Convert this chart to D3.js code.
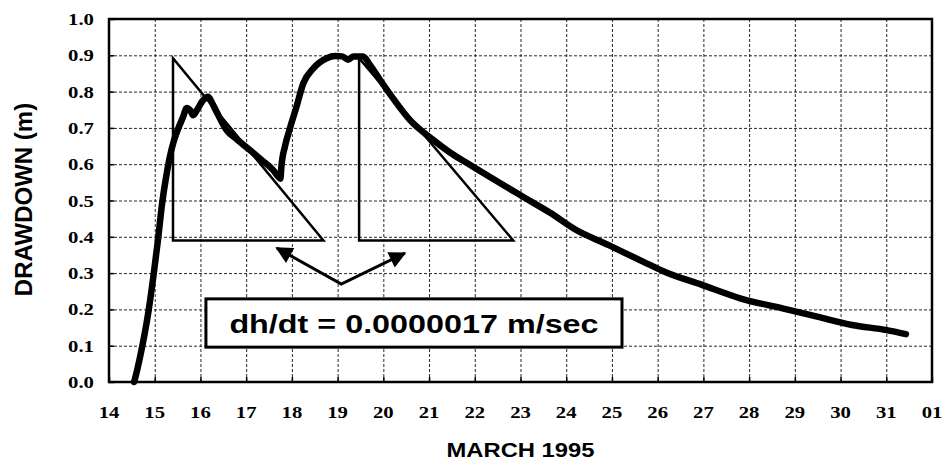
<!DOCTYPE html>
<html>
<head>
<meta charset="utf-8">
<script src="https://cdn.jsdelivr.net/npm/d3@7"></script>
<style>
  body { margin: 0; background: #fff; }
  svg { display: block; }
</style>
</head>
<body>
<div class="chart"></div>
<script>
// Day of March 1995 (fractional) and drawdown in metres
var obsDay = [14.55, 14.62, 14.73, 14.87, 14.98, 15.07, 15.16, 15.25, 15.33, 15.42, 15.52, 15.62, 15.70,
  15.78, 15.84, 15.95, 16.05, 16.17, 16.25, 16.35, 16.57, 16.80, 17.08, 17.35, 17.59, 17.70, 17.75,
  17.77, 17.85, 17.96, 18.10, 18.25, 18.47, 18.76, 18.95, 19.10, 19.23, 19.35, 19.56, 19.70, 19.93,
  20.25, 20.58, 21.09, 21.45, 21.83, 22.55, 23.10, 23.65, 24.20, 24.93, 25.69, 26.15, 26.98, 27.82,
  28.73, 29.49, 30.25, 31.01, 31.43];
var obsDrawdown = [0.0, 0.035, 0.10, 0.20, 0.30, 0.39, 0.49, 0.565, 0.62, 0.665, 0.70, 0.73, 0.755,
  0.748, 0.735, 0.755, 0.775, 0.786, 0.77, 0.745, 0.694, 0.668, 0.639, 0.61, 0.584, 0.566, 0.56,
  0.593, 0.65, 0.70, 0.758, 0.823, 0.864, 0.892, 0.898, 0.897, 0.888, 0.897, 0.897, 0.875, 0.832,
  0.775, 0.722, 0.667, 0.633, 0.603, 0.548, 0.507, 0.466, 0.42, 0.377, 0.331, 0.304, 0.267, 0.23,
  0.203, 0.18, 0.157, 0.143, 0.132];

// Axis ticks
var xTickDays = [14, 15, 16, 17, 18, 19, 20, 21, 22, 23, 24, 25, 26, 27, 28, 29, 30, 31, 32];
var xTickLabels = ['14', '15', '16', '17', '18', '19', '20', '21', '22', '23', '24', '25', '26',
  '27', '28', '29', '30', '31', '01'];
var yTickValues = [0.0, 0.1, 0.2, 0.3, 0.4, 0.5, 0.6, 0.7, 0.8, 0.9, 1.0];

// Slope triangles drawn over the recovery limbs (day, drawdown)
var triangleA = [[15.4, 0.892], [15.4, 0.39], [18.69, 0.39]];
var triangleB = [[19.47, 0.892], [19.47, 0.39], [22.84, 0.39]];

// Annotation arrows: left tip, elbow, right tip
var arrowPath = [[17.67, 0.369], [19.08, 0.27], [20.47, 0.355]];
var noteText = 'dh/dt = 0.0000017 m/sec';
var noteBox = { x0: 16.12, x1: 25.22, y0: 0.229, y1: 0.096 };

var width = 945, height = 463;
var margin = { top: 19, right: 13, bottom: 81, left: 109 };
var stretch = 1.22; // text in the original is drawn wider than tall

var svg = d3.select('.chart').append('svg')
  .attr('width', width)
  .attr('height', height);

svg.append('rect').attr('width', width).attr('height', height).attr('fill', '#fff');

var defs = svg.append('defs');
defs.append('marker')
  .attr('id', 'head')
  .attr('viewBox', '0 0 10 10')
  .attr('refX', 9).attr('refY', 5)
  .attr('markerUnits', 'userSpaceOnUse')
  .attr('markerWidth', 19).attr('markerHeight', 17)
  .attr('orient', 'auto-start-reverse')
  .append('path')
  .attr('d', 'M0,0 L10,5 L0,10 Z')
  .attr('fill', '#000');

var x = d3.scaleLinear().domain([14, 32]).range([margin.left, width - margin.right]);
var y = d3.scaleLinear().domain([0, 1]).range([height - margin.bottom, margin.top]);

// Dashed grid, drawn with the axis generators stretched over the whole plot
var xGrid = d3.axisBottom(x).tickValues(xTickDays.slice(1, -1))
  .tickSize(-(y(0) - y(1))).tickFormat('');
var yGrid = d3.axisLeft(y).tickValues(yTickValues.slice(1, -1))
  .tickSize(-(x(32) - x(14))).tickFormat('');
var gxGrid = svg.append('g').attr('class', 'grid').attr('transform', 'translate(0,' + y(0) + ')').call(xGrid);
var gyGrid = svg.append('g').attr('class', 'grid').attr('transform', 'translate(' + x(14) + ',0)').call(yGrid);
svg.selectAll('.grid .domain').remove();
svg.selectAll('.grid .tick line')
  .attr('stroke', '#000')
  .attr('stroke-width', 1)
  .attr('stroke-dasharray', '3,2')
  .attr('opacity', 0.85);

// Short solid inward ticks
var xAxis = d3.axisBottom(x).tickValues(xTickDays).tickSize(-5).tickFormat('');
var yAxis = d3.axisLeft(y).tickValues(yTickValues).tickSize(-5).tickFormat('');
var gx = svg.append('g').attr('class', 'ticks').attr('transform', 'translate(0,' + y(0) + ')').call(xAxis);
var gy = svg.append('g').attr('class', 'ticks').attr('transform', 'translate(' + x(14) + ',0)').call(yAxis);
svg.selectAll('.ticks .domain').remove();
svg.selectAll('.ticks .tick line').attr('stroke', '#000').attr('stroke-width', 1.5);

// Tick labels (serif bold, stretched sideways)
svg.append('g').selectAll('g').data(xTickDays).enter().append('g')
  .attr('transform', d => 'translate(' + x(d) + ',418) scale(' + stretch + ',1)')
  .append('text')
  .attr('text-anchor', 'middle')
  .attr('font-family', '"Liberation Serif", "Times New Roman", serif')
  .attr('font-weight', 'bold').attr('font-size', 17)
  .text((d, i) => xTickLabels[i]);

svg.append('g').selectAll('g').data(yTickValues).enter().append('g')
  .attr('transform', d => 'translate(94,' + (y(d) + 6) + ') scale(' + stretch + ',1)')
  .append('text')
  .attr('text-anchor', 'end')
  .attr('font-family', '"Liberation Serif", "Times New Roman", serif')
  .attr('font-weight', 'bold').attr('font-size', 17)
  .text(d => d.toFixed(1));

// Axis titles
svg.append('g')
  .attr('transform', 'translate(' + (x(14) + x(32)) / 2 + ',457) scale(' + stretch + ',1)')
  .append('text')
  .attr('text-anchor', 'middle')
  .attr('font-family', '"Liberation Sans", Arial, sans-serif')
  .attr('font-weight', 'bold').attr('font-size', 19.5)
  .text('MARCH 1995');

svg.append('g')
  .attr('transform', 'translate(32,' + ((y(0) + y(1)) / 2 - 1) + ') rotate(-90)')
  .append('text')
  .attr('text-anchor', 'middle')
  .attr('font-family', '"Liberation Sans", Arial, sans-serif')
  .attr('font-weight', 'bold').attr('font-size', 24)
  .text('DRAWDOWN (m)');

// Slope triangles
var poly = d3.line().x(d => x(d[0])).y(d => y(d[1]));
svg.selectAll('.tri').data([triangleA, triangleB]).enter().append('path')
  .attr('class', 'tri')
  .attr('d', d => poly(d) + 'Z')
  .attr('fill', 'none').attr('stroke', '#000').attr('stroke-width', 2.5)
  .attr('stroke-linejoin', 'miter');

// Arrows pointing at the two triangles
svg.append('path')
  .attr('d', poly(arrowPath))
  .attr('fill', 'none').attr('stroke', '#000').attr('stroke-width', 3)
  .attr('marker-start', 'url(#head)').attr('marker-end', 'url(#head)');

// Drawdown record
var records = obsDay.map((d, i) => ({ day: d, dd: obsDrawdown[i] }));
svg.append('path')
  .datum(records)
  .attr('d', d3.line().curve(d3.curveMonotoneX).x(d => x(d.day)).y(d => y(d.dd)))
  .attr('fill', 'none').attr('stroke', '#000').attr('stroke-width', 6.5)
  .attr('stroke-linecap', 'round').attr('stroke-linejoin', 'round');

// Note box
svg.append('rect')
  .attr('x', x(noteBox.x0)).attr('y', y(noteBox.y0))
  .attr('width', x(noteBox.x1) - x(noteBox.x0)).attr('height', y(noteBox.y1) - y(noteBox.y0))
  .attr('fill', '#fff').attr('stroke', '#000').attr('stroke-width', 3);
svg.append('g')
  .attr('transform', 'translate(' + (x(noteBox.x0) + x(noteBox.x1)) / 2 + ',333) scale(' + stretch + ',1)')
  .append('text')
  .attr('text-anchor', 'middle')
  .attr('font-family', '"Liberation Sans", Arial, sans-serif')
  .attr('font-weight', 'bold').attr('font-size', 26.5)
  .text(noteText);

// Plot frame
svg.append('rect')
  .attr('x', x(14)).attr('y', y(1))
  .attr('width', x(32) - x(14)).attr('height', y(0) - y(1))
  .attr('fill', 'none').attr('stroke', '#000').attr('stroke-width', 2.5);
</script>
</body>
</html>
